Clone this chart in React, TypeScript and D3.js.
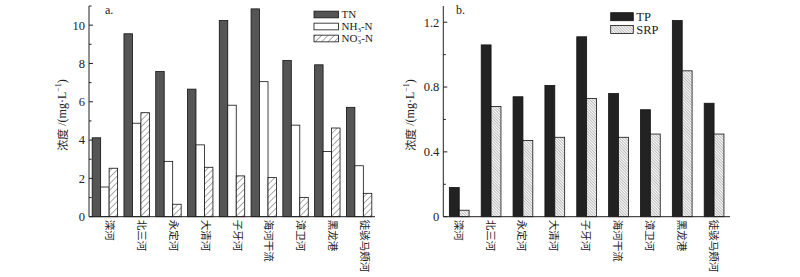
import React from "react";
import * as d3 from "d3";

const rivers = ["滦河", "北三河", "永定河", "大清河", "子牙河", "海河干流", "漳卫河", "黑龙港", "徒骇马颊河"];
const tn = [4.12, 9.55, 7.58, 6.66, 10.24, 10.85, 8.15, 7.93, 5.71];
const nh3 = [1.55, 4.88, 2.89, 3.75, 5.82, 7.05, 4.78, 3.4, 2.66];
const no3 = [2.53, 5.43, 0.65, 2.58, 2.13, 2.04, 1.01, 4.63, 1.22];
const tp = [0.18, 1.06, 0.74, 0.81, 1.11, 0.76, 0.66, 1.21, 0.7];
const srp = [0.04, 0.68, 0.47, 0.49, 0.73, 0.49, 0.51, 0.9, 0.51];
const ticksA = [0, 2, 4, 6, 8, 10];
const minorA = [1, 3, 5, 7, 9, 11];
const ticksB = [0, 0.4, 0.8, 1.2];
const minorB = [0.2, 0.6, 1.0];

const SERIF = "'Liberation Serif', 'Times New Roman', serif";
const CJK = "'Noto Sans CJK SC', sans-serif";

type Series = { name: React.ReactNode; values: number[]; fill: string };

function Panel(props: {
  x0: number; x1: number; yTop: number; yBot: number; domain: number;
  ticks: number[]; minor: number[]; fmt: (v: number) => string;
  series: Series[]; paddingInner: number; tag: string; tagX: number;
  legendX: number; legendY: number; legendW: number; legendH: number; legendStep: number; legendFont: number;
  labelX: number; labelOffset: number;
}) {
  const p = props;
  const x = d3.scaleBand<string>().domain(rivers).range([p.x0, p.x1]).paddingInner(p.paddingInner).paddingOuter(p.paddingInner / 2);
  const y = d3.scaleLinear().domain([0, p.domain]).range([p.yBot, p.yTop]);
  const sub = d3.scaleBand<number>().domain(d3.range(p.series.length)).range([0, x.bandwidth()]);
  return (
    <g>
      {p.series.map((s, si) =>
        s.values.map((v, i) => (
          <rect key={si + "-" + i} x={(x(rivers[i]) as number) + (sub(si) as number)} y={y(v)}
            width={sub.bandwidth()} height={p.yBot - y(v)} fill={s.fill} stroke="#111" strokeWidth={0.8} />
        ))
      )}
      <line x1={p.x0} x2={p.x0} y1={p.yTop} y2={p.yBot} stroke="#222" strokeWidth={1} />
      <line x1={p.x0} x2={p.x1} y1={p.yBot} y2={p.yBot} stroke="#222" strokeWidth={1} />
      {p.ticks.map((t) => (
        <g key={"t" + t}>
          <line x1={p.x0} x2={p.x0 + 4} y1={y(t)} y2={y(t)} stroke="#222" />
          <text x={p.x0 - 4} y={y(t)} dy="0.35em" textAnchor="end" fontFamily={SERIF} fontSize={12.5} fill="#222">{p.fmt(t)}</text>
        </g>
      ))}
      {p.minor.map((t) => (
        <line key={"m" + t} x1={p.x0} x2={p.x0 + 2.5} y1={y(t)} y2={y(t)} stroke="#222" />
      ))}
      {rivers.map((r) => (
        <text key={r} transform={`translate(${(x(r) as number) + x.bandwidth() / 2 + p.labelOffset},${p.yBot + 3}) rotate(90)`}
          dominantBaseline="central" fontFamily={CJK} fontSize={10.5} fill="#222">{r}</text>
      ))}
      <text transform={`translate(${p.labelX},115) rotate(-90)`} textAnchor="middle" dominantBaseline="central"
        fontFamily={SERIF} fontSize={12} fill="#222">
        <tspan fontFamily={CJK} fontSize={11}>浓度</tspan>
        <tspan> /(mg·L</tspan>
        <tspan fontSize={8} dy={-4}>−1</tspan>
        <tspan dy={4}>)</tspan>
      </text>
      <text x={p.tagX} y={14} fontFamily={SERIF} fontSize={12} fill="#222">{p.tag}</text>
      {p.series.map((s, si) => (
        <g key={"l" + si}>
          <rect x={p.legendX} y={p.legendY + si * p.legendStep - p.legendH / 2} width={p.legendW} height={p.legendH}
            fill={s.fill} stroke="#111" strokeWidth={0.8} />
          <text x={p.legendX + p.legendW + 3} y={p.legendY + si * p.legendStep} dy="0.35em" fontFamily={SERIF} fontSize={p.legendFont} fill="#222">{s.name}</text>
        </g>
      ))}
    </g>
  );
}

export default function App() {
  return (
    <svg width={800} height={277} style={{ position: "absolute", left: 0, top: 0, background: "#fff" }}>
      <defs>
        <pattern id="hatchNO3" patternUnits="userSpaceOnUse" width={4.5} height={4.5} patternTransform="rotate(45)">
          <rect width={4.5} height={4.5} fill="#fff" />
          <line x1={0} y1={0} x2={0} y2={4.5} stroke="#555" strokeWidth={1} />
        </pattern>
        <pattern id="hatchSRP" patternUnits="userSpaceOnUse" width={2} height={2} patternTransform="rotate(-45)">
          <rect width={2} height={2} fill="#fff" />
          <line x1={0} y1={0} x2={0} y2={2} stroke="#666" strokeWidth={0.9} />
        </pattern>
      </defs>
      <rect width={800} height={277} fill="#fff" />
      <Panel x0={89} x1={375} yTop={6} yBot={216.7} domain={11} ticks={ticksA} minor={minorA} fmt={(v) => String(v)}
        series={[
          { name: "TN", values: tn, fill: "#555" },
          { name: <tspan>NH<tspan fontSize={7} dy={2}>3</tspan><tspan dy={-2}>-N</tspan></tspan>, values: nh3, fill: "#fff" },
          { name: <tspan>NO<tspan fontSize={7} dy={2}>3</tspan><tspan fontSize={7} dx={-3.5} dy={-5}>−</tspan><tspan dy={3}>-N</tspan></tspan>, values: no3, fill: "url(#hatchNO3)" },
        ]}
        paddingInner={0.2} tag="a." tagX={105}
        legendX={314} legendY={14.5} legendW={24.5} legendH={6.7} legendStep={12} legendFont={11}
        labelX={62} labelOffset={6} />
      <Panel x0={443.3} x1={730} yTop={6} yBot={216.7} domain={1.3} ticks={ticksB} minor={minorB}
        fmt={(v) => (v === 0 ? "0" : v.toFixed(1))}
        series={[
          { name: "TP", values: tp, fill: "#222" },
          { name: "SRP", values: srp, fill: "url(#hatchSRP)" },
        ]}
        paddingInner={0.38} tag="b." tagX={456}
        legendX={610.7} legendY={16.7} legendW={22.6} legendH={8} legendStep={12.8} legendFont={12.5}
        labelX={410} labelOffset={0} />
    </svg>
  );
}
